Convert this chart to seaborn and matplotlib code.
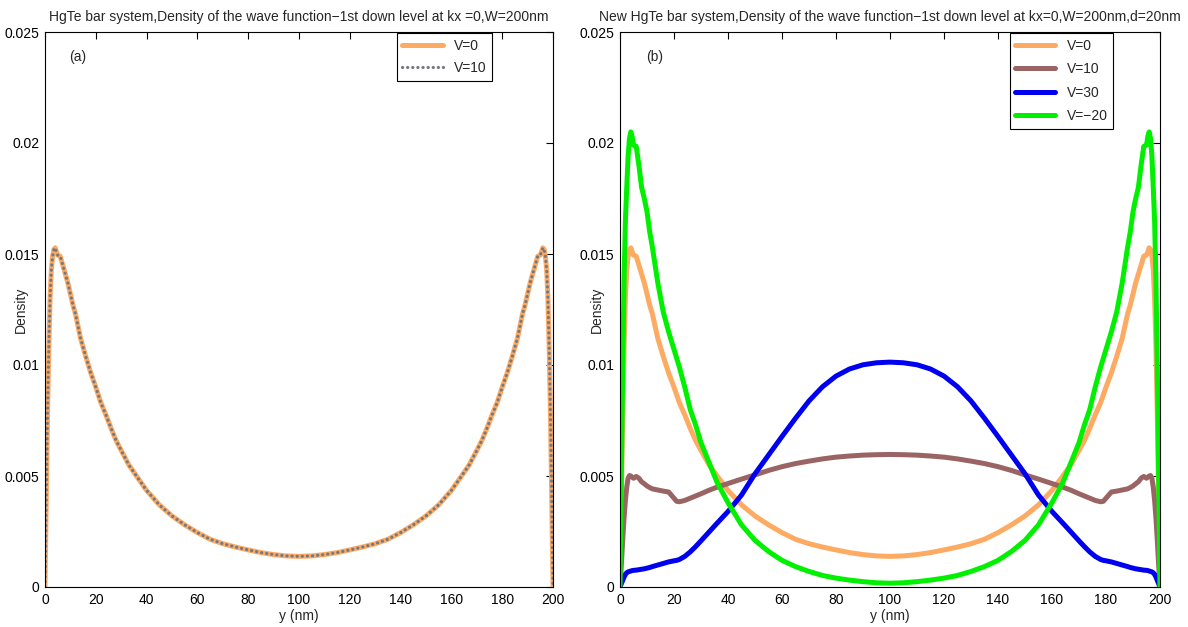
import matplotlib
matplotlib.use("Agg")
import matplotlib.pyplot as plt
import seaborn as sns
import pandas as pd

# Positions across the bar width (nm)
y_left = [0, 0.5, 1, 1.5, 2, 2.5, 3, 3.5, 4, 4.5, 5, 6, 7, 8, 9, 10, 11, 12,
          14, 16, 18, 20, 21, 22, 24, 26, 28, 30, 33, 36, 40, 45, 50, 55, 60,
          65, 70, 75, 80, 85, 90, 95, 100]
y_right = [105, 110, 115, 120, 125, 130, 135, 140, 145, 150, 155, 160, 164,
           167, 170, 172, 174, 176, 178, 179, 180, 182, 184, 186, 188, 189,
           190, 191, 192, 193, 194, 195, 195.5, 196, 196.5, 197, 197.5, 198,
           198.5, 199, 199.5, 200]

# Density of the 1st down level, V=0
v0_left = [0, 0.0040, 0.0078, 0.0108, 0.0130, 0.0143, 0.0149, 0.0152, 0.01528,
           0.0151, 0.01495, 0.0149, 0.0145, 0.0141, 0.0137, 0.0132, 0.0127,
           0.0123, 0.0112, 0.0104, 0.00965, 0.0090, 0.00865, 0.0083, 0.00775,
           0.00715, 0.0066, 0.00615, 0.0055, 0.0050, 0.00435, 0.0037, 0.0032,
           0.0028, 0.00245, 0.00215, 0.00195, 0.0018, 0.00167, 0.00155,
           0.00146, 0.0014, 0.00138]
v0_right = [0.0014, 0.00146, 0.00155, 0.00167, 0.0018, 0.00195, 0.00215,
            0.00245, 0.0028, 0.0032, 0.0037, 0.00435, 0.0050, 0.0055, 0.00615,
            0.0066, 0.00715, 0.00775, 0.0083, 0.00865, 0.0090, 0.00965, 0.0104,
            0.0112, 0.0123, 0.0127, 0.0132, 0.0137, 0.0141, 0.0145, 0.0149,
            0.01495, 0.0151, 0.01528, 0.0152, 0.0149, 0.0143, 0.0130, 0.0108,
            0.0078, 0.0040, 0]

# V=10
v10_left = [0, 0.0010, 0.0021, 0.0031, 0.0039, 0.0045, 0.0049, 0.00502, 0.0050,
            0.00495, 0.0049, 0.00498, 0.0049, 0.00474, 0.00465, 0.00455,
            0.00448, 0.00442, 0.00437, 0.00432, 0.00428, 0.0040, 0.00386,
            0.00384, 0.0039, 0.0040, 0.0041, 0.0042, 0.00436, 0.0045, 0.00466,
            0.00486, 0.00505, 0.00525, 0.00542, 0.00556, 0.00567, 0.00577,
            0.00585, 0.0059, 0.00594, 0.00596, 0.00597]
v10_right = [0.00596, 0.00594, 0.0059, 0.00585, 0.00577, 0.00567, 0.00556,
             0.00542, 0.00525, 0.00505, 0.00486, 0.00466, 0.0045, 0.00436,
             0.0042, 0.0041, 0.0040, 0.0039, 0.00384, 0.00386, 0.0040, 0.00428,
             0.00432, 0.00437, 0.00442, 0.00448, 0.00455, 0.00465, 0.00474,
             0.0049, 0.00498, 0.0049, 0.00495, 0.0050, 0.00502, 0.0049, 0.0045,
             0.0039, 0.0031, 0.0021, 0.0010, 0]

# V=30
v30_left = [0, 0.00015, 0.0003, 0.00045, 0.00057, 0.00064, 0.00068, 0.0007,
            0.00072, 0.00074, 0.00075, 0.00076, 0.00078, 0.0008, 0.00082,
            0.00085, 0.00088, 0.00092, 0.00099, 0.00106, 0.00113, 0.00118,
            0.0012, 0.00124, 0.00138, 0.00158, 0.00182, 0.00208, 0.00248,
            0.00288, 0.0034, 0.00414, 0.0051, 0.00594, 0.00678, 0.0076,
            0.00838, 0.00902, 0.0095, 0.00982, 0.01001, 0.0101, 0.01013]
v30_right = [0.0101, 0.01001, 0.00982, 0.0095, 0.00902, 0.00838, 0.0076,
             0.00678, 0.00594, 0.0051, 0.00414, 0.0034, 0.00288, 0.00248,
             0.00208, 0.00182, 0.00158, 0.00138, 0.00124, 0.0012, 0.00118,
             0.00113, 0.00106, 0.00099, 0.00092, 0.00088, 0.00085, 0.00082,
             0.0008, 0.00078, 0.00076, 0.00075, 0.00074, 0.00072, 0.0007,
             0.00068, 0.00064, 0.00057, 0.00045, 0.0003, 0.00015, 0]

# V=-20
vm20_left = [0, 0.0050, 0.0098, 0.0138, 0.0165, 0.0180, 0.0194, 0.0202, 0.0205,
             0.0203, 0.0199, 0.01985, 0.0190, 0.0180, 0.0175, 0.0169, 0.0160,
             0.0153, 0.0137, 0.0124, 0.0115, 0.0107, 0.0103, 0.0099, 0.0090,
             0.0080, 0.0073, 0.0065, 0.0056, 0.0047, 0.0038, 0.0028, 0.0021,
             0.0016, 0.0012, 0.00092, 0.0007, 0.00052, 0.0004, 0.00031,
             0.00024, 0.00019, 0.00017]
vm20_right = [0.00019, 0.00024, 0.00031, 0.0004, 0.00052, 0.0007, 0.00092,
              0.0012, 0.0016, 0.0021, 0.0028, 0.0038, 0.0047, 0.0056, 0.0065,
              0.0073, 0.0080, 0.0090, 0.0099, 0.0103, 0.0107, 0.0115, 0.0124,
              0.0137, 0.0153, 0.0160, 0.0169, 0.0175, 0.0180, 0.0190, 0.01985,
              0.0199, 0.0203, 0.0205, 0.0202, 0.0194, 0.0180, 0.0165, 0.0138,
              0.0098, 0.0050, 0]

x_ticks = [0, 20, 40, 60, 80, 100, 120, 140, 160, 180, 200]
y_ticks = [0, 0.005, 0.01, 0.015, 0.02, 0.025]
y_tick_labels = ["0", "0.005", "0.01", "0.015", "0.02", "0.025"]

pos = y_left + y_right
df = pd.DataFrame({
    "y": pos,
    "V=0": v0_left + v0_right,
    "V=10": v10_left + v10_right,
    "V=30": v30_left + v30_right,
    "V=\u221220": vm20_left + vm20_right,
})

sns.set_theme(style="white")
plt.rcParams["font.family"] = ["Liberation Sans Narrow", "Liberation Sans", "DejaVu Sans"]
plt.rcParams["font.size"] = 10

ORANGE = "#FDAA63"
GREY = "#767A80"
BROWN = "#9A6464"
BLUE = "#0000F0"
GREEN = "#00F000"

fig = plt.figure(figsize=(11.88, 6.27), dpi=100)
ax1 = fig.add_axes([45 / 1188, 40 / 627, 508 / 1188, 555 / 627])
ax2 = fig.add_axes([620 / 1188, 40 / 627, 540 / 1188, 555 / 627])

# Panel (a): plain bar, V=0 and V=10 coincide
sns.lineplot(data=df, x="y", y="V=0", ax=ax1, color=ORANGE, lw=3.6,
             label="V=0", sort=False)
sns.lineplot(data=df, x="y", y="V=0", ax=ax1, color=GREY, lw=2.3,
             linestyle=(0, (0.05, 1.55)), dash_capstyle="round",
             label="V=10", sort=False)

# Panel (b): bar with d=20nm region
for col, c in [("V=0", ORANGE), ("V=10", BROWN), ("V=30", BLUE), ("V=\u221220", GREEN)]:
    sns.lineplot(data=df, x="y", y=col, ax=ax2, color=c, lw=3.6, label=col,
                 sort=False)

titles = [
    "HgTe bar system,Density of the wave function\u22121st down level at kx =0,W=200nm",
    "New HgTe bar system,Density of the wave function\u22121st down level at kx=0,W=200nm,d=20nm",
]
for ax, t, tag, lx in [(ax1, titles[0], "(a)", -0.034), (ax2, titles[1], "(b)", -0.03)]:
    ax.set_xlim(0, 200)
    ax.set_ylim(0, 0.025)
    ax.set_xticks(x_ticks)
    ax.set_xticklabels([str(v) for v in x_ticks])
    ax.set_yticks(y_ticks)
    ax.set_yticklabels(y_tick_labels)
    ax.tick_params(direction="in", top=True, right=True, length=5, width=0.8,
                   colors="black", labelsize=10, pad=4)
    for s in ax.spines.values():
        s.set_color("black")
        s.set_linewidth(0.8)
    ax.set_xlabel("y (nm)", fontsize=10, labelpad=2)
    ax.set_ylabel("Density", fontsize=10)
    ax.yaxis.set_label_coords(lx, 0.5)
    ax.set_title(t, fontsize=10, pad=8)
    ax.text(0.048, 0.955, tag, transform=ax.transAxes, fontsize=10,
            ha="left", va="center")

leg1 = ax1.legend(loc="upper right", bbox_to_anchor=(0.880, 0.998),
                  borderaxespad=0, fancybox=False, framealpha=1,
                  edgecolor="black", handlelength=2.9, fontsize=10,
                  labelspacing=0.6)
leg2 = ax2.legend(loc="upper right", bbox_to_anchor=(0.913, 0.998),
                  borderaxespad=0, fancybox=False, framealpha=1,
                  edgecolor="black", handlelength=2.9, fontsize=10,
                  labelspacing=0.68)
for leg in (leg1, leg2):
    leg.get_frame().set_linewidth(0.8)

fig.savefig("out.png", dpi=100)
